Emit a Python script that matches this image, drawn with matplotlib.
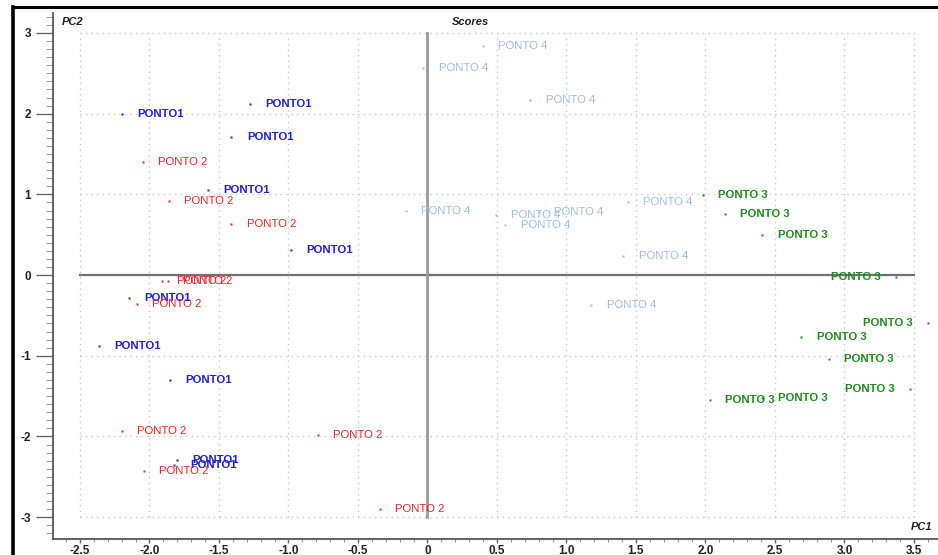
import matplotlib
matplotlib.use("Agg")
import matplotlib.pyplot as plt
import numpy as np
from matplotlib.lines import Line2D
from matplotlib.ticker import MultipleLocator

plt.rcParams['font.family'] = ['Liberation Sans', 'DejaVu Sans']

# scores per group (PC1, PC2)
p1_x = [-2.20, -1.28, -1.41, -1.58, -0.98, -2.15, -2.36, -1.85, -1.80, -1.82]
p1_y = [2.00, 2.12, 1.71, 1.05, 0.31, -0.29, -0.88, -1.30, -2.29, -2.35]

p2_x = [-2.05, -1.86, -1.41, -1.91, -1.87, -2.09, -2.20, -0.79, -2.04, -0.34]
p2_y = [1.40, 0.92, 0.63, -0.075, -0.075, -0.36, -1.93, -1.98, -2.43, -2.90]

p3_x = [1.98, 2.14, 2.41, 3.37, 3.60, 3.47, 2.69, 2.89, 2.03, 2.41]
p3_y = [0.99, 0.755, 0.50, -0.025, -0.60, -1.41, -0.77, -1.04, -1.55, -1.52]

p4_x = [0.40, -0.03, 0.74, -0.155, 0.49, 0.80, 0.56, 1.44, 1.41, 1.18]
p4_y = [2.84, 2.57, 2.17, 0.79, 0.74, 0.78, 0.62, 0.90, 0.24, -0.37]

groups = [
    ("PONTO1", p1_x, p1_y, "#1f1fd6", "bold"),
    ("PONTO 2", p2_x, p2_y, "#e82222", "normal"),
    ("PONTO 3", p3_x, p3_y, "#1e8c1e", "bold"),
    ("PONTO 4", p4_x, p4_y, "#9dbde6", "normal"),
]

W, H = 938, 555
fig = plt.figure(figsize=(W / 100, H / 100), dpi=100)
ax = fig.add_axes([53 / W, (H - 539) / H, (W - 53) / W, (539 - 13) / H])
ax.set_xlim(-2.694, 3.673)
ax.set_ylim(-3.27, 3.247)

# dotted grid, bounded to the tick range
for gx in np.arange(-2.5, 3.51, 0.5):
    ax.plot([gx, gx], [-3, 3], color="#c8c8c8", lw=1.0, ls=(0, (1, 3)), zorder=0)
for gy in np.arange(-3, 3.1, 1):
    ax.plot([-2.5, 3.5], [gy, gy], color="#c8c8c8", lw=1.0, ls=(0, (1, 3)), zorder=0)

# zero lines
ax.plot([-2.5, 3.5], [0, 0], color="#707070", lw=1.6, zorder=1)
ax.plot([0, 0], [-3, 3], color="#9a9a9a", lw=2.0, zorder=1)

for name, xs, ys, col, fw in groups:
    ax.plot(xs, ys, ls="none", marker="s", ms=1.6, mec="none", mfc=col, zorder=3)
    for x, y in zip(xs, ys):
        if x > 3.3:
            ax.annotate(name, (x, y), xytext=(-11, 0), textcoords="offset points",
                        ha="right", va="center", color=col, fontsize=8.2, fontweight=fw, zorder=4)
        else:
            ax.annotate(name, (x, y), xytext=(11, 0), textcoords="offset points",
                        ha="left", va="center", color=col, fontsize=8.2, fontweight=fw, zorder=4)

for s in ["top", "right"]:
    ax.spines[s].set_visible(False)
for s in ["left", "bottom"]:
    ax.spines[s].set_color("#555555")
    ax.spines[s].set_linewidth(1.3)

ax.xaxis.set_major_locator(MultipleLocator(0.5))
ax.xaxis.set_minor_locator(MultipleLocator(0.1))
ax.yaxis.set_major_locator(MultipleLocator(1))
ax.yaxis.set_minor_locator(MultipleLocator(0.1))
ax.set_xticks(np.arange(-2.5, 3.51, 0.5))
ax.set_xticklabels(["-2.5", "-2.0", "-1.5", "-1.0", "-0.5", "0", "0.5", "1.0",
                    "1.5", "2.0", "2.5", "3.0", "3.5"])
ax.set_yticks(np.arange(-3, 3.1, 1))
ax.set_yticklabels(["-3", "-2", "-1", "0", "1", "2", "3"])
ax.tick_params(axis="both", which="major", direction="out", color="#666666",
               labelsize=8.5, width=1.0)
ax.tick_params(axis="y", which="major", length=12, pad=4)
ax.tick_params(axis="y", which="minor", length=5, color="#888888")
ax.tick_params(axis="x", which="major", length=3, pad=1)
ax.tick_params(axis="x", which="minor", length=2, color="#888888")
for lab in ax.get_xticklabels() + ax.get_yticklabels():
    lab.set_fontweight("bold")
    lab.set_color("#222222")

fig.text(62 / W, 1 - 22 / H, "PC2", fontsize=8, fontweight="bold", style="italic",
         ha="left", va="center", color="#222222")
fig.text(470 / W, 1 - 22 / H, "Scores", fontsize=8, fontweight="bold", style="italic",
         ha="center", va="center", color="#222222")
fig.text(932 / W, 1 - 527 / H, "PC1", fontsize=8, fontweight="bold", style="italic",
         ha="right", va="center", color="#222222")

# outer black frame (top and left)
fig.add_artist(Line2D([12.5 / W, 1.0], [1 - 6.5 / H, 1 - 6.5 / H], color="black", lw=2.2,
                      transform=fig.transFigure))
fig.add_artist(Line2D([12.5 / W, 12.5 / W], [0, 1 - 6.5 / H], color="black", lw=2.6,
                      transform=fig.transFigure))

fig.savefig("out.png", dpi=100)
